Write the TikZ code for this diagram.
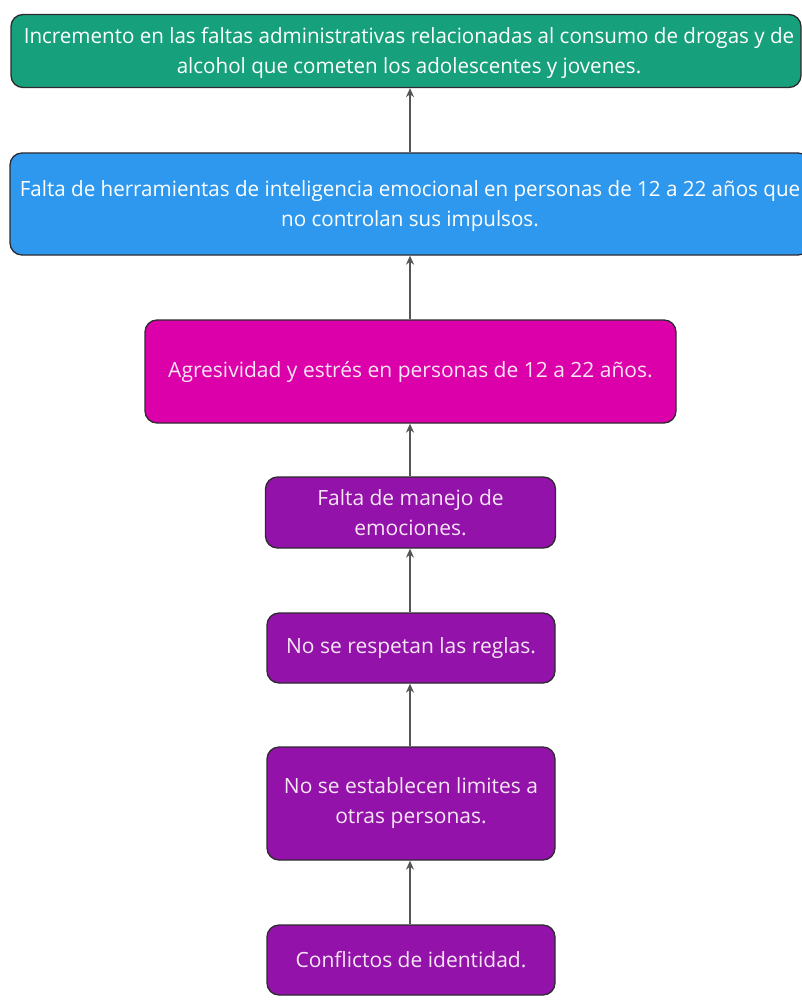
\documentclass[tikz,border=0pt]{standalone}
\usepackage{fontspec}
\setmainfont{Open Sans}
\newfontfamily\condfont[FakeStretch=0.98]{Open Sans}
\usetikzlibrary{arrows.meta}
\definecolor{cgreen}{HTML}{17A07C}
\definecolor{cblue}{HTML}{2E98EE}
\definecolor{cmag}{HTML}{DC00AA}
\definecolor{cpur}{HTML}{9212AA}
\definecolor{cedge}{HTML}{2E2A30}
\definecolor{carrow}{HTML}{555555}
\definecolor{ctxt}{HTML}{F8E6F4}
\tikzset{
  box/.style={draw=cedge, line width=1.3pt, rounded corners=12pt, inner sep=0pt,
    align=center, text=ctxt, font=\fontsize{21}{30}\selectfont},
  widebox/.style={box, text=white, font=\condfont\fontsize{21}{30}\selectfont},
  arr/.style={draw=carrow, line width=1.4pt, -{Stealth[length=9pt,width=8pt]}}
}
\begin{document}
\begin{tikzpicture}[x=1pt,y=-1pt]
\useasboundingbox (0,0) rectangle (802,1000);
\node[widebox, fill=cgreen, minimum width=790pt, minimum height=73pt] (b1) at (406,51) {};
\node[text=white, font=\condfont\fontsize{21}{30}\selectfont, align=center, inner sep=0pt] (t1) at (409,53) {Incremento en las faltas administrativas relacionadas al consumo de drogas y de\\alcohol que cometen los adolescentes y jovenes.};
\node[widebox, fill=cblue, minimum width=800pt, minimum height=102pt] (b2) at (410,204) {};
\node[text=white, font=\condfont\fontsize{21}{30}\selectfont, align=center, inner sep=0pt] (t2) at (410,206) {Falta de herramientas de inteligencia emocional en personas de 12 a 22 años que\\no controlan sus impulsos.};
\node[box, fill=cmag, minimum width=531pt, minimum height=103pt] (b3) at (410.5,371.5) {Agresividad y estrés en personas de 12 a 22 años.};
\node[box, fill=cpur, minimum width=290pt, minimum height=71pt] (b4) at (410.5,512.5) {Falta de manejo de\\emociones.};
\node[box, fill=cpur, minimum width=288pt, minimum height=70pt] (b5) at (411,648) {No se respetan las reglas.};
\node[box, fill=cpur, minimum width=288pt, minimum height=113pt] (b6) at (411,803.5) {No se establecen limites a\\otras personas.};
\node[box, fill=cpur, minimum width=288pt, minimum height=70pt] (b7) at (411,960) {Conflictos de identidad.};
\draw[arr] (b7.north -| 410,0) -- (b6.south -| 410,0);
\draw[arr] (b6.north -| 410,0) -- (b5.south -| 410,0);
\draw[arr] (b5.north -| 410,0) -- (b4.south -| 410,0);
\draw[arr] (b4.north -| 410,0) -- (b3.south -| 410,0);
\draw[arr] (b3.north -| 410,0) -- (b2.south -| 410,0);
\draw[arr] (b2.north -| 410,0) -- (b1.south -| 410,0);
\end{tikzpicture}
\end{document}
